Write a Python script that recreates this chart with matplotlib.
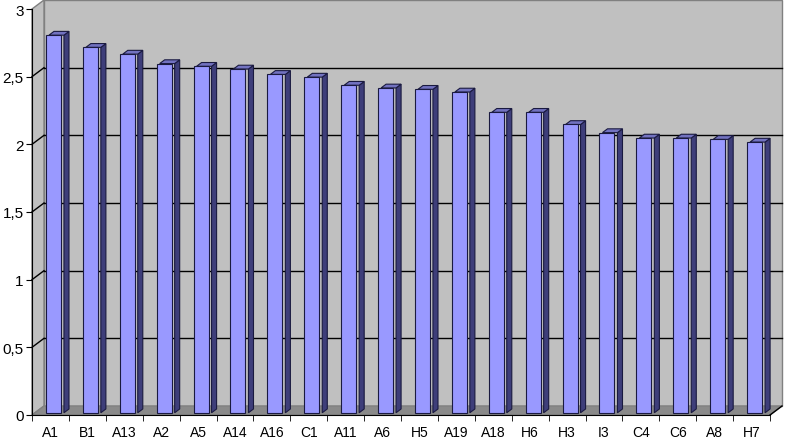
import numpy as np
import matplotlib.pyplot as plt
from matplotlib.patches import Polygon

categories = ["A1", "B1", "A13", "A2", "A5", "A14", "A16", "C1", "A11", "A6",
              "H5", "A19", "A18", "H6", "H3", "I3", "C4", "C6", "A8", "H7"]
values = [2.79, 2.70, 2.65, 2.58, 2.56, 2.54, 2.50, 2.48, 2.42, 2.40,
          2.39, 2.37, 2.22, 2.22, 2.13, 2.07, 2.03, 2.03, 2.02, 2.00]
yticks = [0, 0.5, 1, 1.5, 2, 2.5, 3]
ytick_labels = ["0", "0,5", "1", "1,5", "2", "2,5", "3"]

plt.rcParams["font.family"] = ["Liberation Sans", "DejaVu Sans"]

W, H = 785, 439
fig = plt.figure(figsize=(W / 100, H / 100), dpi=100)
ax = fig.add_axes([32 / W, (H - 416) / H, 738 / W, 406 / H])
ax.set_facecolor("none")

n = len(categories)
x = np.arange(n)
ax.set_xlim(-0.5, n - 0.5)
ax.set_ylim(0, 3)

# depth of the 3d box, in data units
dx = 12 / 36.9
dy = 9 / 135.3

def shift(px, py, d):
    return (px + d * dx, py + d * dy)

x0, x1 = -0.5, n - 0.5
wall = "#c0c0c0"
edge = "#808080"

# back wall, left wall, floor
ax.add_patch(Polygon([shift(x0, 0, 1), shift(x1, 0, 1), shift(x1, 3, 1), shift(x0, 3, 1)],
                     closed=True, fc=wall, ec=edge, lw=1, clip_on=False, zorder=1))
ax.add_patch(Polygon([(x0, 0), shift(x0, 0, 1), shift(x0, 3, 1), (x0, 3)],
                     closed=True, fc=wall, ec=edge, lw=1, clip_on=False, zorder=1))
ax.add_patch(Polygon([(x0, 0), (x1, 0), shift(x1, 0, 1), shift(x0, 0, 1)],
                     closed=True, fc="#8a8a8a", ec=edge, lw=1, clip_on=False, zorder=1))

# gridlines on the back and left walls
for t in yticks[1:-1]:
    bx, by = shift(x0, t, 1)
    ex, ey = shift(x1, t, 1)
    ax.plot([bx, ex], [by, ey], color="black", lw=1, clip_on=False, zorder=2)
    ax.plot([x0, bx], [t, by], color="black", lw=1, clip_on=False, zorder=2)

# bars: front face at depth 0.25, back at 0.67
d0, d1 = 0.25, 0.67
bw = 15 / 36.9
front = "#9999ff"
side = "#3e3e7a"
top = "#7272c0"
ax.bar(x + d0 * dx, values, width=bw, bottom=d0 * dy, color=front,
       edgecolor="#1a1a40", lw=0.8, zorder=4, clip_on=False)
for xi, v in zip(x, values):
    xl = xi + d0 * dx - bw / 2
    xr = xi + d0 * dx + bw / 2
    ax.add_patch(Polygon([shift(xr, 0, d0), shift(xr, 0, d1), shift(xr, v, d1), shift(xr, v, d0)],
                         closed=True, fc=side, ec="#1a1a40", lw=0.8, zorder=3, clip_on=False))
    ax.add_patch(Polygon([shift(xl, v, d0), shift(xr, v, d0), shift(xr, v, d1), shift(xl, v, d1)],
                         closed=True, fc=top, ec="#1a1a40", lw=0.8, zorder=3, clip_on=False))

# right edge of the floor
ax.plot([x1, x1 + dx], [0, dy], color="black", lw=1, clip_on=False, zorder=5)

ax.spines["top"].set_visible(False)
ax.spines["right"].set_visible(False)
ax.spines["left"].set_zorder(6)
ax.spines["bottom"].set_zorder(6)

ax.set_yticks(yticks)
ax.set_yticklabels(ytick_labels, fontsize=11)
ax.set_xticks(x)
ax.set_xticklabels(categories, fontsize=10)
ax.set_xticks(np.arange(n + 1) - 0.5, minor=True)
ax.tick_params(axis="x", which="major", length=0, pad=7)
ax.tick_params(axis="x", which="minor", length=4, direction="out")
ax.tick_params(axis="y", length=4, direction="out", pad=2)

fig.savefig("out.png", dpi=100)
